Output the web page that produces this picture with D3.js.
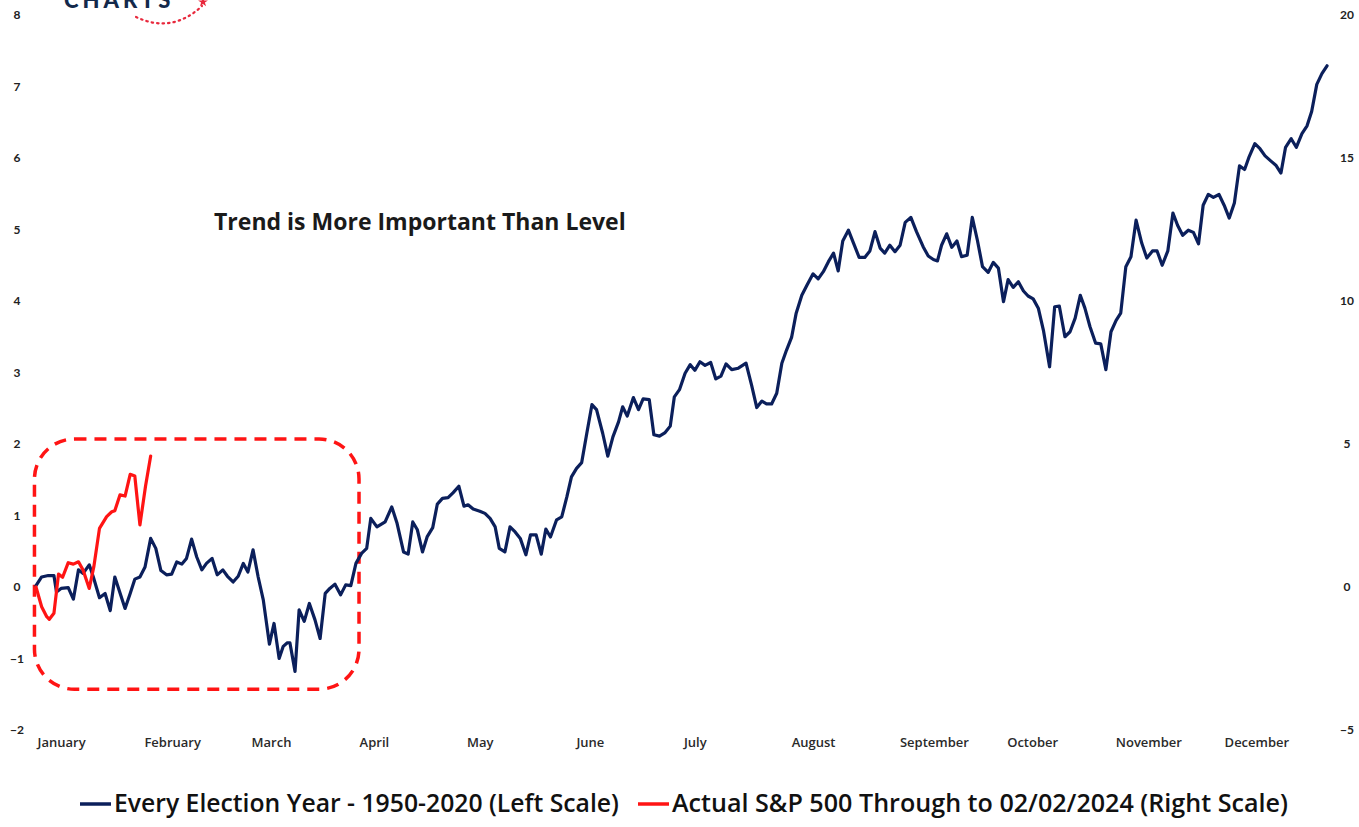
<!DOCTYPE html>
<html>
<head>
<meta charset="utf-8">
<script src="https://cdn.jsdelivr.net/npm/d3@7/dist/d3.min.js"></script>
<style>
  html, body { margin: 0; padding: 0; background: #fff; }
  svg { display: block; }
</style>
</head>
<body>
<svg id="chart" width="1359" height="827"></svg>
<script>
// ---------- DATA ----------
const monthNames = ["January","February","March","April","May","June","July","August","September","October","November","December"];
const monthDays  = [4.9, 26.6, 45.9, 66.0, 86.7, 108.2, 128.7, 151.8, 175.4, 194.6, 217.3, 238.4];

const leftTicks  = [-2,-1,0,1,2,3,4,5,6,7,8];
const rightTicks = [-5,0,5,10,15,20];

// Every Election Year 1950-2020 average (left scale), trading day index
const electionDays = [0,1.1,2.4,3.5,4.0,4.9,6.3,7.3,8.3,9.2,10.4,11.2,12.4,13.5,14.5,15.4,17.4,18.4,19.3,20.3,21.3,22.4,23.4,24.4,25.5,26.5,27.5,28.5,29.4,30.4,31.4,32.4,33.3,34.4,35.4,36.5,37.4,38.5,39.5,40.5,41.4,42.4,43.4,44.4,45.6,46.5,47.5,48.3,49.1,49.6,50.6,51.4,52.4,53.4,54.5,55.5,56.5,57.4,58.4,59.5,60.5,61.5,62.5,63.6,64.6,65.4,66.6,68.2,69.5,70.5,71.8,72.7,73.6,74.5,75.5,76.4,77.5,78.4,79.4,80.5,81.5,82.6,83.6,84.4,85.4,86.7,87.7,88.7,89.7,90.5,91.6,92.6,93.6,94.6,95.7,96.6,97.7,98.7,99.6,100.5,101.7,102.7,103.7,104.6,105.6,106.6,107.6,108.6,109.5,110.7,111.7,112.7,113.8,114.6,115.5,116.7,117.7,118.6,119.8,120.7,121.8,122.9,123.9,124.7,125.7,126.8,127.8,128.7,129.7,130.7,131.8,132.8,133.8,134.8,135.9,137.2,138.7,139.8,140.8,141.8,142.7,143.7,144.7,145.7,146.6,147.6,148.5,149.6,150.6,151.8,152.8,153.8,154.8,155.8,156.7,157.6,158.7,159.7,160.8,161.9,162.9,163.9,164.9,165.8,166.8,167.8,168.8,169.8,170.9,172.0,173.3,174.3,175.3,176.1,176.9,177.9,178.9,179.9,180.8,181.9,182.9,183.9,184.9,186.0,187.0,188.0,189.0,189.9,190.9,191.9,192.9,193.8,194.8,195.8,196.8,198.0,199.0,199.9,201.0,202.0,203.0,204.0,204.9,205.9,207.0,208.0,209.0,210.0,211.0,211.9,212.9,213.9,214.9,216.0,217.0,218.1,219.0,220.0,221.1,222.1,223.0,224.0,225.1,226.1,227.1,228.0,229.0,230.0,231.1,232.1,233.1,234.1,235.1,236.1,237.0,238.1,239.1,240.1,241.2,242.2,243.2,244.1,245.2,246.2,247.3,248.3,249.2,250.2,251.2,252.2];
const electionValues = [0.02,0.14,0.16,0.16,-0.07,-0.02,-0.01,-0.17,0.24,0.19,0.31,0.14,-0.15,-0.09,-0.33,0.14,-0.30,-0.09,0.11,0.14,0.28,0.68,0.54,0.23,0.17,0.18,0.35,0.32,0.40,0.67,0.42,0.24,0.33,0.40,0.17,0.24,0.15,0.07,0.15,0.33,0.21,0.52,0.14,-0.18,-0.80,-0.51,-1.00,-0.83,-0.78,-0.78,-1.18,-0.32,-0.48,-0.23,-0.46,-0.72,-0.09,-0.02,0.04,-0.11,0.03,0.02,0.33,0.47,0.54,0.96,0.84,0.91,1.12,0.90,0.49,0.46,0.91,0.80,0.49,0.70,0.83,1.16,1.24,1.25,1.32,1.41,1.13,1.15,1.09,1.06,1.03,0.96,0.84,0.54,0.49,0.84,0.77,0.68,0.45,0.73,0.73,0.46,0.81,0.70,0.94,0.98,1.26,1.54,1.66,1.74,2.15,2.55,2.48,2.15,1.83,2.10,2.31,2.52,2.39,2.65,2.48,2.63,2.62,2.13,2.11,2.16,2.25,2.66,2.76,2.99,3.11,3.03,3.15,3.10,3.14,2.91,2.95,3.12,3.04,3.06,3.13,2.82,2.51,2.60,2.56,2.56,2.71,3.13,3.31,3.49,3.83,4.08,4.22,4.38,4.31,4.41,4.55,4.67,4.42,4.84,4.99,4.81,4.61,4.61,4.70,4.97,4.74,4.67,4.78,4.69,4.78,5.10,5.17,4.97,4.76,4.63,4.58,4.56,4.78,4.94,4.75,4.84,4.62,4.64,5.17,4.85,4.48,4.40,4.54,4.46,3.99,4.30,4.19,4.27,4.14,4.07,4.03,3.90,3.59,3.08,3.92,3.93,3.50,3.57,3.76,4.08,3.90,3.64,3.41,3.40,3.04,3.57,3.73,3.83,4.48,4.62,5.13,4.81,4.60,4.70,4.70,4.50,4.70,5.23,5.06,4.92,4.99,4.96,4.80,5.34,5.49,5.45,5.49,5.34,5.16,5.37,5.89,5.84,6.02,6.20,6.13,6.03,5.96,5.90,5.79,6.15,6.27,6.15,6.34,6.45,6.65,7.03,7.18,7.29];

// Actual S&P 500 through 02/02/2024 (right scale)
const spxDays   = [0,1.1,2.1,2.6,3.5,4.4,5.2,6.3,7.3,8.3,9.2,10.4,11.3,12.4,13.8,14.8,15.4,16.4,17.4,18.4,19.3,20.3,21.4,22.4];
const spxValues = [0.0,-0.69,-1.04,-1.13,-0.92,0.45,0.34,0.85,0.80,0.88,0.59,-0.05,0.71,2.05,2.46,2.63,2.67,3.22,3.18,3.94,3.88,2.17,3.53,4.58];

// Highlight box (trading days, left-scale values)
const boxDays   = [-0.3, 63.1];
const boxValues = [2.07, -1.43];

const annotation = "Trend is More Important Than Level";
const legendLabels = ["Every Election Year - 1950-2020 (Left Scale)", "Actual S&P 500 Through to 02/02/2024 (Right Scale)"];

// ---------- CHART ----------
const NAVY = "#0b1f5b", RED = "#ff1414";
const legendColors = [NAVY, RED];
const svg = d3.select("#chart");
const font = "'Open Sans', Lato, sans-serif";

const x  = d3.scaleLinear().domain([0, 252]).range([36, 1326]);
const yL = d3.scaleLinear().domain([-2, 8]).range([730, 15]);
const yR = d3.scaleLinear().domain([-5, 20]).range([730, 15]);

// fit a text element's font size so it spans a given width
function fitWidth(sel, width) {
  const fs = +sel.attr("font-size");
  const w = sel.node().getComputedTextLength();
  sel.attr("font-size", (fs * width / w).toFixed(2));
}

// Logo (partially cropped at top, as in the reference)
const logo = svg.append("g");
logo.append("text").attr("x", 64).attr("y", 8)
  .attr("font-family", "Lato, sans-serif").attr("font-weight", 900).attr("font-size", 22)
  .attr("letter-spacing", 4).attr("fill", "#13294b").text("CHARTS");
logo.append("path").attr("d", "M136,17 Q172,34 202,6")
  .attr("fill", "none").attr("stroke", "#e8283c").attr("stroke-width", 2.2)
  .attr("stroke-dasharray", "1.5,4").attr("stroke-linecap", "round");
logo.append("path").attr("d", d3.symbol(d3.symbolStar, 30)())
  .attr("transform", "translate(203,2)").attr("fill", "#e8283c");

// Left axis
const axL = svg.append("g").attr("transform", "translate(17,0)")
  .call(d3.axisLeft(yL).tickValues(leftTicks).tickSize(0).tickPadding(0).tickFormat(d3.format("d")));
axL.select(".domain").remove();
axL.selectAll("text").attr("text-anchor", "middle").attr("font-family", "Lato, sans-serif")
  .attr("font-weight", 700).attr("font-size", 12).attr("fill", "#222");

// Right axis
const axR = svg.append("g").attr("transform", "translate(1347,0)")
  .call(d3.axisRight(yR).tickValues(rightTicks).tickSize(0).tickPadding(0).tickFormat(d3.format("d")));
axR.select(".domain").remove();
axR.selectAll("text").attr("text-anchor", "middle").attr("font-family", "Lato, sans-serif")
  .attr("font-weight", 700).attr("font-size", 12).attr("fill", "#222");

// X axis month labels
const axX = svg.append("g").attr("transform", "translate(0,735)")
  .call(d3.axisBottom(x).tickValues(monthDays).tickSize(0).tickPadding(3)
    .tickFormat((d, i) => monthNames[i]));
axX.select(".domain").remove();
axX.selectAll("text").attr("font-family", font).attr("font-weight", 600)
  .attr("font-size", 13).attr("fill", "#2a2a2a");

// Highlight box
svg.append("rect")
  .attr("x", x(boxDays[0])).attr("y", yL(boxValues[0]))
  .attr("width", x(boxDays[1]) - x(boxDays[0]))
  .attr("height", yL(boxValues[1]) - yL(boxValues[0]))
  .attr("rx", 40).attr("ry", 40)
  .attr("fill", "none").attr("stroke", RED).attr("stroke-width", 3.5)
  .attr("stroke-dasharray", "12,8");

// Lines
const elec = electionDays.map((d, i) => [d, electionValues[i]]);
const spx  = spxDays.map((d, i) => [d, spxValues[i]]);

svg.append("path").datum(elec)
  .attr("d", d3.line().x(d => x(d[0])).y(d => yL(d[1])))
  .attr("fill", "none").attr("stroke", NAVY).attr("stroke-width", 3.2)
  .attr("stroke-linejoin", "round").attr("stroke-linecap", "round");

svg.append("path").datum(spx)
  .attr("d", d3.line().x(d => x(d[0])).y(d => yR(d[1])))
  .attr("fill", "none").attr("stroke", RED).attr("stroke-width", 3.2)
  .attr("stroke-linejoin", "round").attr("stroke-linecap", "round");

// Annotation
const ann = svg.append("text").attr("x", 214).attr("y", 230)
  .attr("font-family", font).attr("font-weight", 700).attr("font-size", 21)
  .attr("fill", "#1a1a1a").text(annotation);
fitWidth(ann, 412);

// Legend
const leg = svg.append("g").attr("transform", "translate(0,804)");
const legX = [80, 638];
const legW = [505, 616];
legendLabels.forEach((label, i) => {
  leg.append("line").attr("x1", legX[i]).attr("x2", legX[i] + 31).attr("y1", 0).attr("y2", 0)
    .attr("stroke", legendColors[i]).attr("stroke-width", 3.5);
  const t = leg.append("text").attr("x", legX[i] + 34).attr("y", 8)
    .attr("font-family", font).attr("font-weight", 600).attr("font-size", 22)
    .attr("fill", "#111").text(label);
  fitWidth(t, legW[i]);
});
</script>
</body>
</html>
